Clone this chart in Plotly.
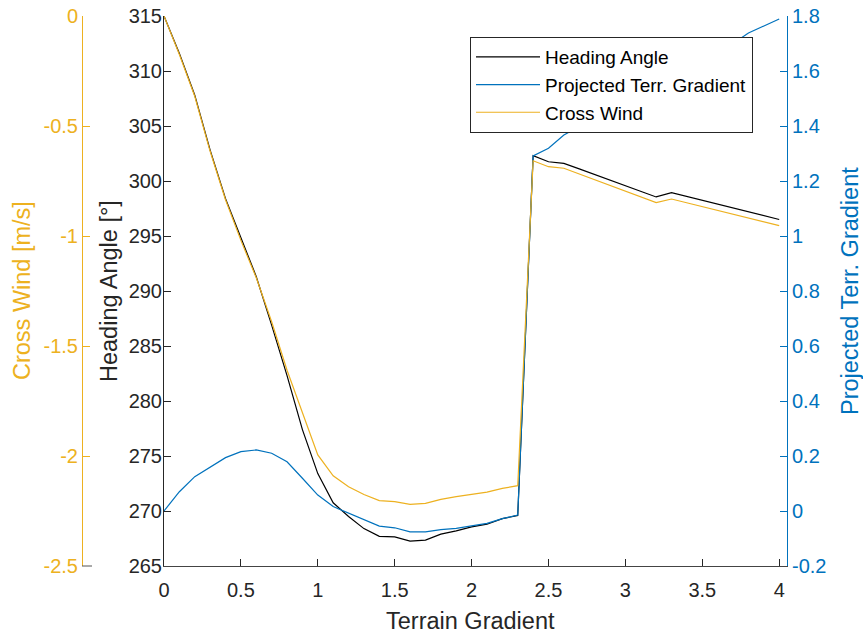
import plotly.graph_objects as go

terrain_gradient = [0.0, 0.1, 0.2, 0.3, 0.4, 0.5, 0.6, 0.7, 0.8, 0.9,
                    1.0, 1.1, 1.2, 1.3, 1.4, 1.5, 1.6, 1.7, 1.8, 1.9,
                    2.0, 2.1, 2.2, 2.3, 2.4, 2.5, 2.6, 2.7, 2.8, 2.9,
                    3.0, 3.1, 3.2, 3.3, 3.4, 3.5, 3.6, 3.7, 3.8, 3.9, 4.0]

heading_angle = [315.0, 311.6, 307.8, 302.8, 298.4, 294.8, 291.3, 286.9, 282.3, 277.4,
                 273.4, 270.75, 269.5, 268.4, 267.7, 267.65, 267.27, 267.36, 267.9, 268.2,
                 268.55, 268.8, 269.3, 269.6, 302.3, 301.75, 301.6, 301.1, 300.6, 300.1,
                 299.6, 299.1, 298.55, 298.95, 298.6, 298.25, 297.9, 297.55, 297.2, 296.85, 296.5]

projected_gradient = [0.0, 0.07, 0.125, 0.161, 0.194, 0.216, 0.222, 0.21, 0.179, 0.119,
                      0.058, 0.016, -0.008, -0.033, -0.055, -0.061, -0.076, -0.076, -0.068, -0.063,
                      -0.055, -0.045, -0.028, -0.015, 1.291, 1.319, 1.367, 1.397, 1.43, 1.46,
                      1.49, 1.52, 1.55, 1.58, 1.61, 1.64, 1.67, 1.70, 1.738, 1.763, 1.789]

cross_wind = [0.0, -0.175, -0.365, -0.615, -0.835, -1.02, -1.19, -1.39, -1.61, -1.80,
              -1.995, -2.09, -2.14, -2.175, -2.203, -2.207, -2.22, -2.215, -2.197, -2.185,
              -2.173, -2.164, -2.147, -2.135, -0.658, -0.685, -0.692, -0.718, -0.744, -0.770,
              -0.796, -0.822, -0.848, -0.832, -0.849, -0.867, -0.884, -0.901, -0.918, -0.936, -0.953]

x_ticks = [0, 0.5, 1, 1.5, 2, 2.5, 3, 3.5, 4]
x_ticktext = ["0", "0.5", "1", "1.5", "2", "2.5", "3", "3.5", "4"]
heading_ticks = [265, 270, 275, 280, 285, 290, 295, 300, 305, 310, 315]
gradient_ticks = [-0.2, 0, 0.2, 0.4, 0.6, 0.8, 1.0, 1.2, 1.4, 1.6, 1.8]
gradient_ticktext = ["-0.2", "0", "0.2", "0.4", "0.6", "0.8", "1", "1.2", "1.4", "1.6", "1.8"]
wind_ticks = [-2.5, -2, -1.5, -1, -0.5, 0]
wind_ticktext = ["-2.5", "-2", "-1.5", "-1", "-0.5", "0"]

BLACK = "#000000"
BLUE = "#0072BD"
ORANGE = "#EDB120"
DARK = "#262626"
FONT = "Liberation Sans, Arial, sans-serif"

W, H = 863, 637
L, R, T, B = 82, 76, 16, 71
pw = W - L - R
ph = H - T - B
x0_px = 164

fig = go.Figure()
fig.add_trace(go.Scatter(x=terrain_gradient, y=heading_angle, mode="lines",
                         name="Heading Angle", line=dict(color=BLACK, width=1.2),
                         yaxis="y"))
fig.add_trace(go.Scatter(x=terrain_gradient, y=projected_gradient, mode="lines",
                         name="Projected Terr. Gradient", line=dict(color=BLUE, width=1.2),
                         yaxis="y2"))
fig.add_trace(go.Scatter(x=terrain_gradient, y=cross_wind, mode="lines",
                         name="Cross Wind", line=dict(color=ORANGE, width=1.2),
                         yaxis="y3"))

xmax = (L + pw - x0_px) / 153.8

fig.update_layout(
    width=W, height=H,
    margin=dict(l=L, r=R, t=T, b=B, pad=0, autoexpand=False),
    paper_bgcolor="white", plot_bgcolor="white",
    font=dict(family=FONT, size=20, color=DARK),
    showlegend=True,
    legend=dict(x=(470 - L) / pw, y=1 - (37 - T) / ph, xanchor="left", yanchor="top",
                bgcolor="white", bordercolor=DARK, borderwidth=1,
                font=dict(family=FONT, size=19, color="#000000"),
                itemwidth=64, tracegroupgap=0),
    xaxis=dict(domain=[(x0_px - L) / pw, 1], range=[0, xmax], automargin=False,
               tickvals=x_ticks, ticktext=x_ticktext, ticklabelstandoff=6,
               ticks="inside", ticklen=7, tickcolor=DARK, tickwidth=1,
               showline=True, linecolor="#444444", linewidth=1,
               showgrid=False, zeroline=False,
               tickfont=dict(family=FONT, size=20, color=DARK)),
    yaxis=dict(range=[265, 315], tickvals=heading_ticks, automargin=False,
               ticklabelstandoff=-3,
               ticks="inside", ticklen=7, tickcolor=DARK, tickwidth=1,
               showline=True, linecolor=DARK, linewidth=1,
               showgrid=False, zeroline=False,
               tickfont=dict(family=FONT, size=20, color=DARK)),
    yaxis2=dict(range=[-0.2, 1.8], tickvals=gradient_ticks, ticktext=gradient_ticktext,
                overlaying="y", side="right", anchor="x", automargin=False,
                ticks="inside", ticklen=7, tickcolor=BLUE, tickwidth=1,
                showline=True, linecolor=BLUE, linewidth=1,
                showgrid=False, zeroline=False,
                tickfont=dict(family=FONT, size=20, color=BLUE)),
    yaxis3=dict(range=[-2.5, 0], tickvals=wind_ticks, ticktext=wind_ticktext,
                overlaying="y", side="left", anchor="free", position=0, automargin=False,
                ticks="inside", ticklen=7, tickcolor=ORANGE, tickwidth=1,
                showline=True, linecolor=ORANGE, linewidth=1,
                showgrid=False, zeroline=False,
                tickfont=dict(family=FONT, size=20, color=ORANGE)),
)

fig.add_annotation(text="Terrain Gradient", xref="paper", yref="paper",
                   x=(470 - L) / pw, y=-(636 - (T + ph)) / ph, xanchor="center", yanchor="bottom",
                   showarrow=False, font=dict(family=FONT, size=23.5, color=DARK))
fig.add_annotation(text="Heading Angle [°]", xref="paper", yref="paper",
                   x=(109 - L) / pw, y=0.5, xanchor="center", yanchor="middle",
                   textangle=-90, showarrow=False, font=dict(family=FONT, size=23.5, color=DARK))
fig.add_annotation(text="Cross Wind [m/s]", xref="paper", yref="paper",
                   x=(22 - L) / pw, y=0.5, xanchor="center", yanchor="middle",
                   textangle=-90, showarrow=False, font=dict(family=FONT, size=23.5, color=ORANGE))
fig.add_annotation(text="Projected Terr. Gradient", xref="paper", yref="paper",
                   x=(850 - L) / pw, y=0.5, xanchor="center", yanchor="middle",
                   textangle=-90, showarrow=False, font=dict(family=FONT, size=23.5, color=BLUE))

fig.add_shape(type="line", xref="paper", yref="paper", x0=0, x1=10 / pw, y0=0, y1=0,
              line=dict(color="#555555", width=1))

fig.write_html("out.html", config={"displayModeBar": False},
               post_script="document.body.style.margin='0';document.body.style.overflow='hidden';")
